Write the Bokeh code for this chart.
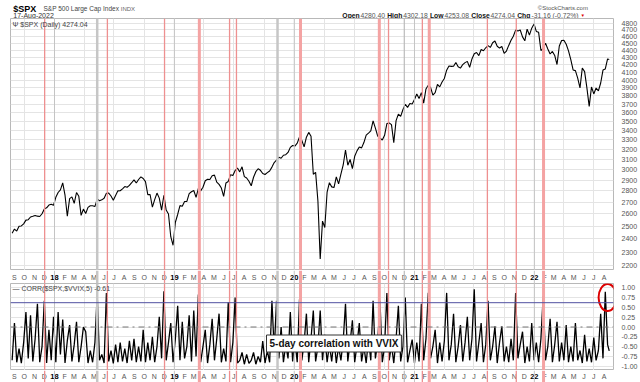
import pandas as pd
from bokeh.plotting import figure
from bokeh.layouts import column
from bokeh.models import (Range1d, FixedTicker, NumeralTickFormatter, Span, Label,
                          ColumnDataSource)
from bokeh.embed import file_html
from bokeh.resources import INLINE
from bokeh.core.properties import value

FONT = "Liberation Sans"

# ---------------- data ----------------
week_start = "2017-08-25"          # weekly (Friday) samples
spx_weekly = [
    2443, 2477, 2461, 2500, 2502, 2519, 2549, 2553, 2575, 2581, 2588, 2582, 2579, 2602, 2642, 2652, 2676, 2683, 2674,
    2743, 2786, 2810, 2873, 2762, 2581, 2732, 2747, 2691, 2786, 2752, 2588, 2641, 2604, 2656, 2670, 2670, 2663, 2728,
    2713, 2721, 2735, 2779, 2780, 2755, 2718, 2760, 2801, 2802, 2819, 2840, 2833, 2850, 2875, 2902, 2872, 2905, 2930,
    2914, 2885, 2767, 2768, 2658, 2723, 2781, 2736, 2633, 2760, 2633, 2600, 2417, 2351,
    2532, 2596, 2671, 2665, 2707, 2708, 2776, 2793, 2804, 2743, 2822, 2801, 2834, 2893, 2907, 2905, 2940, 2946, 2881,
    2860, 2826, 2752, 2873, 2887, 2950, 2942, 2990, 3014, 2977, 3026, 2932, 2919, 2889, 2847, 2926, 2979, 3007, 2992,
    2962, 2952, 2970, 2986, 3023, 3067, 3093, 3120, 3110, 3141, 3146, 3169, 3221, 3240,
    3235, 3265, 3330, 3295, 3226, 3328, 3380, 3338, 2954, 2972, 2711, 2250, 2541, 2489, 2790, 2875, 2837, 2831, 2930,
    2864, 2955, 3044, 3194, 3041, 3098, 3009, 3130, 3185, 3225, 3216, 3271, 3351, 3373, 3397, 3508, 3427, 3341, 3319,
    3298, 3348, 3477, 3484, 3465, 3270, 3510, 3585, 3558, 3638, 3699, 3663, 3709, 3703,
    3756, 3825, 3768, 3841, 3714, 3887, 3934, 3907, 3811, 3842, 3943, 3913, 3975, 4020, 4129, 4185, 4180, 4181, 4233,
    4174, 4156, 4204, 4230, 4247, 4166, 4281, 4352, 4370, 4327, 4412, 4395, 4437, 4468, 4442, 4509, 4535, 4459, 4433,
    4455, 4357, 4391, 4471, 4545, 4605, 4697, 4683, 4698, 4595, 4538, 4712, 4621, 4726, 4790,
    4677, 4663, 4398, 4432, 4501, 4419, 4349, 4385, 4329, 4204, 4463, 4543, 4546, 4488, 4393, 4272, 4132, 4123, 4024,
    3901, 4158, 4109, 3901, 3675, 3912, 3825, 3899, 3863, 3962, 4130, 4145, 4280,
]
corr_weekly = [
    -0.85, 0.10, -0.90, -0.55, -0.92, -0.40, 0.38, -0.80, 0.30, -0.88, -0.30, 0.59, -0.90, -0.50, 0.67, -0.92, -0.07,
    -0.85, 0.26, -0.90, 0.38, -0.70, 0.19, -0.92, -0.35, 0.05, -0.88, -0.45, 0.13, -0.90, -0.50, 0.00, -0.12, -0.92,
    -0.60, -0.90, -0.40, 0.83, -0.85, -0.70, -0.92, 0.87, -0.88, -0.60, -0.93, -0.45, -0.90, -0.40, -0.88, -0.55,
    -0.92, -0.35, -0.85, -0.30, -0.90, -0.50, -0.88, -0.07, -0.90, -0.40, -0.85, -0.25, -0.90, -0.50, 0.26, -0.80,
    0.91, -0.85, -0.40, 0.10, -0.90, -0.30, 0.54, -0.85, 0.13, -0.80, -0.50, 0.30, -0.88, 0.42, -0.75, 0.83, -0.90,
    -0.50, -0.07, -0.92, -0.45, 0.21, -0.85, -0.30, 0.34, -0.90, -0.55, -0.88, 0.63, -0.90, -0.40, 0.75, -0.92,
    -0.85, -0.65, -0.95, -0.70, -0.93, -0.85, -0.65, -0.95, -0.75, -0.90, -0.36, -0.92, -0.60, -0.90, 0.67, -0.60,
    0.67, -0.80, 0.00, -0.90, -0.45, -0.80, 0.38, -0.88, -0.35, -0.90, 0.71, -0.85, -0.40, 0.34, -0.90, -0.30, 0.42,
    -0.88, -0.50, 0.42, -0.85, -0.20, -0.90, -0.45, -0.88, -0.30, -0.92, -0.50, -0.85, -0.35, 0.59, -0.88, -0.40,
    0.17, -0.90, -0.45, 0.10, -0.88, -0.50, -0.92, -0.30, -0.85, 0.67, -0.80, -0.40, 0.67, -0.90, -0.50, 0.87,
    -0.85, -0.45, -0.92, -0.30, 0.54, -0.88, -0.50, 0.75, -0.90, -0.60, -0.32, -0.92, -0.40, -0.88, 0.59, -0.85,
    -0.30, 0.87, -0.80, -0.50, -0.07, -0.92, -0.40, -0.88, -0.35, 0.87, -0.85, -0.45, 0.34, -0.90, -0.50, 0.05,
    -0.88, -0.40, 0.26, -0.85, -0.30, 0.96, -0.88, -0.40, 0.10, -0.90, -0.45, 0.67, -0.85, -0.50, 0.02, -0.92,
    -0.40, 0.02, -0.88, -0.50, -0.90, -0.30, -0.85, 0.87, -0.80, -0.45, -0.12, -0.92, -0.50, -0.88, 0.10, -0.85,
    -0.40, -0.90, -0.30, 0.79, -0.85, -0.50, 0.21, -0.90, -0.45, 0.13, -0.88, -0.40, -0.85, 0.05, -0.90, -0.50,
    -0.88, 0.10, -0.85, -0.60, -0.92, -0.20, -0.88, -0.55, -0.90, -0.27, -0.85, -0.60, 0.34, -0.80, 0.90, -0.45,
]
last_date = "2022-08-17"
spx_last = 4274.04
corr_last = -0.61

ohlc_labels = ["Open", "High", "Low", "Close"]
ohlc_values = [4280.40, 4302.18, 4253.08, 4274.04]
chg_value = -31.16
chg_pct = -0.72

price_ticks = [2200, 2300, 2400, 2500, 2600, 2700, 2800, 2900, 3000, 3100, 3200, 3300, 3400, 3500, 3600,
               3700, 3800, 3900, 4000, 4100, 4200, 4300, 4400, 4500, 4600, 4700, 4800]
corr_ticks = [1.0, 0.75, 0.5, 0.25, 0.0, -0.25, -0.5, -0.75, -1.0]
signal_level = 0.62

month_labels = ("S O N D 18 F M A M J J A S O N D 19 F M A M J J A S O N D 20 F M A M J J A "
                "S O N D 21 F M A M J J A S O N D 22 F M A M J J A").split()
first_month = "2017-09-01"

red_events = ["2017-12-02", "2018-06-11", "2018-12-02", "2019-03-18", "2019-06-18", "2019-07-09",
              "2020-01-20", "2020-09-16", "2020-10-14", "2021-01-25", "2021-02-15", "2021-08-11",
              "2021-11-07", "2022-01-29"]
red_wide = [False, False, False, True, False, False, True, True, False, False, True, False, False, True]
gray_events = ["2018-05-11", "2019-11-11", "2020-12-01"]
gray_wide = [True, True, False]

# ---------------- helpers ----------------
dates = list(pd.date_range(week_start, periods=len(spx_weekly), freq="7D")) + [pd.Timestamp(last_date)]
spx = spx_weekly + [spx_last]
corr = corr_weekly + [corr_last]
month_dates = list(pd.date_range(first_month, periods=len(month_labels), freq="MS"))


def ms(d):
    return pd.Timestamp(d).value / 1e6


AW = {c: 556 for c in "0123456789"}
AW.update({".": 278, " ": 278, "-": 333, "(": 333, ")": 333, "%": 889, "$": 556, "&": 667,
           "O": 778, "p": 556, "e": 556, "n": 556, "H": 722, "i": 222, "g": 556, "h": 556,
           "L": 556, "o": 556, "w": 722, "C": 722, "l": 222, "s": 500})
AWB = dict(AW)
AWB.update({"O": 778, "p": 611, "e": 556, "n": 611, "H": 722, "i": 278, "g": 611, "h": 611,
            "L": 611, "o": 611, "w": 778, "C": 722, "l": 278, "s": 556})


def tw(s, size, bold=False):
    t = AWB if bold else AW
    return sum(t.get(c, 556) for c in s) * size / 1000.0


XR = Range1d(start=pd.Timestamp("2017-08-20"), end=pd.Timestamp("2022-08-30"))
FW = 603
BL, BR = 10, 25
GRID = "#e4e4e4"
YEARLINE = "#c4c4c4"
quarter_ticks = [ms(d) for d in pd.date_range("2017-10-01", "2022-07-01", freq="QS-JAN")]
year_ticks = [ms(d) for d in ["2018-01-01", "2019-01-01", "2020-01-01", "2021-01-01", "2022-01-01"]]


def add_events(fig):
    for d in year_ticks:
        fig.add_layout(Span(location=d, dimension="height", line_color=YEARLINE, line_width=1))
    for d, w in zip(gray_events, gray_wide):
        fig.add_layout(Span(location=ms(d), dimension="height", line_color="#c6c6c6" if w else "#bbbbbb",
                            line_width=2.5 if w else 1.2))
    for d, w in zip(red_events, red_wide):
        fig.add_layout(Span(location=ms(d), dimension="height",
                            line_color="#f4a3a3" if w else "#ee9090", line_width=3 if w else 1.3))


def base(h, **kw):
    f = figure(x_axis_type="datetime", x_range=XR, frame_width=FW, frame_height=h,
               min_border_left=BL, min_border_right=BR, min_border_top=0, min_border_bottom=0,
               toolbar_location=None, output_backend="svg", background_fill_color="white",
               border_fill_color="white", **kw)
    return f


def style_right_axis(ax, ticks, fmt):
    ax.ticker = FixedTicker(ticks=ticks)
    ax.formatter = NumeralTickFormatter(format=fmt)
    ax.axis_line_color = None
    ax.major_tick_line_color = None
    ax.minor_tick_line_color = None
    ax.major_label_standoff = 2
    ax.major_label_text_font = FONT
    ax.major_label_text_font_size = "7px"
    ax.major_label_text_color = "#555555"


# ---------------- header (its data units are pixels of the page) ----------------
HH = 18
hdr = figure(width=FW + BL + BR, height=HH, x_range=Range1d(0, FW + BL + BR), y_range=Range1d(HH, 0),
             min_border=0, toolbar_location=None, output_backend="svg", outline_line_color=None)
hdr.axis.visible = False
hdr.grid.visible = False


def hl(x, y, text, size, color, bold=False, align="left"):
    hdr.add_layout(Label(x=x, y=y, text=text, text_font=FONT, text_font_size=f"{size}px",
                         text_color=color, text_font_style="bold" if bold else "normal",
                         text_align=align, text_baseline="alphabetic"))


hl(3, 8.5, "$SPX", 9, "#000000", bold=True)
hl(35, 8, "S&P 500 Large Cap Index", 6.5, "#444444")
hl(117, 8, "INDX", 6, "#666666")
hl(3, 15, "17-Aug-2022", 7, "#333333")
hl(613, 7.5, "\u00a9StockCharts.com", 6, "#555555", align="right")

pieces = []
for lab, val in zip(ohlc_labels, ohlc_values):
    pieces.append((lab, True))
    pieces.append((f"{val:.2f}", False))
pieces.append(("Chg", True))
pieces.append((f"{chg_value:.2f} ({chg_pct:.2f}%)", False))
FS = 6.8
gap1, gap2 = tw(" ", FS), tw("  ", FS)
total = sum(tw(t, FS, b) + (gap1 if b else gap2) for t, b in pieces)
x0 = 604 - total
for t, b in pieces:
    hl(x0, 15, t, FS, "#111111" if b else "#555555", bold=b)
    x0 += tw(t, FS, b) + (gap1 if b else gap2)
hl(x0 + 1, 14.5, "\u25bc", 4.5, "#dd0000")

# ---------------- price panel ----------------
H1 = 252
p1 = base(H1, y_axis_type="log", y_range=Range1d(2168, 4875), y_axis_location="right")
p1.xaxis.visible = False
p1.outline_line_color = "#b8b8b8"
style_right_axis(p1.yaxis[0], price_ticks, "0")
p1.ygrid.grid_line_color = GRID
p1.xgrid.ticker = FixedTicker(ticks=quarter_ticks)
p1.xgrid.grid_line_color = GRID
add_events(p1)
p1.line(x=dates, y=spx, line_color="#000000", line_width=1.1)
p1.add_layout(Label(x=2, y=H1 - 2, x_units="screen", y_units="screen", text="\u03a8 $SPX (Daily) 4274.04",
                    text_font=FONT, text_font_size="7px", text_color="#444444", text_baseline="top"))


# ---------------- month rows ----------------
def month_row(h):
    r = base(h, y_range=Range1d(0, 1))
    r.axis.visible = False
    r.grid.visible = False
    r.outline_line_color = None
    add_events(r)
    m_src = ColumnDataSource(dict(x=[d for d, t in zip(month_dates, month_labels) if not t.isdigit()],
                                  t=[t for t in month_labels if not t.isdigit()]))
    y_src = ColumnDataSource(dict(x=[d for d, t in zip(month_dates, month_labels) if t.isdigit()],
                                  t=[t for t in month_labels if t.isdigit()]))
    r.text(x="x", y=0.5, text="t", source=m_src, text_font=value(FONT), text_font_size="7px",
           text_color="#555555", text_align="center", text_baseline="middle")
    r.text(x="x", y=0.5, text="t", source=y_src, text_font=value(FONT), text_font_size="7.5px",
           text_font_style="bold", text_color="#000000", text_align="center", text_baseline="middle")
    return r


row1 = month_row(13)
row2 = month_row(12)

# ---------------- correlation panel ----------------
H2 = 87
p2 = base(H2, y_range=Range1d(-1.11, 1.11), y_axis_location="right")
p2.xaxis.visible = False
p2.outline_line_color = "#b8b8b8"
style_right_axis(p2.yaxis[0], corr_ticks, "0.00")
p2.ygrid.grid_line_color = GRID
p2.xgrid.ticker = FixedTicker(ticks=quarter_ticks)
p2.xgrid.grid_line_color = GRID
add_events(p2)
p2.add_layout(Span(location=0.0, dimension="width", line_color="#777777", line_width=1, line_dash="dashdot"))
p2.add_layout(Span(location=signal_level, dimension="width", line_color="#5050a0", line_width=1))
p2.line(x=dates, y=corr, line_color="#000000", line_width=1.3)
p2.ellipse(x=[pd.Timestamp("2022-08-12")], y=[0.75], width=18, height=27, width_units="screen",
           height_units="screen", fill_alpha=0, line_color="#dd0000", line_width=2)
p2.add_layout(Label(x=2, y=H2 - 1, x_units="screen", y_units="screen", text="\u2014 CORR($SPX,$VVIX,5) -0.61",
                    text_font=FONT, text_font_size="7px", text_color="#444444", text_baseline="top"))
p2.add_layout(Label(x=256, y=27, x_units="screen", y_units="screen", text="5-day correlation with VVIX",
                    text_font=FONT, text_font_size="10px", text_font_style="bold", text_color="#111111",
                    text_baseline="middle", background_fill_color="white", border_line_color="#333333",
                    border_line_width=1, padding=3))

layout = column(hdr, p1, row1, p2, row2, spacing=0)
open("out.html", "w").write(file_html(layout, INLINE))
